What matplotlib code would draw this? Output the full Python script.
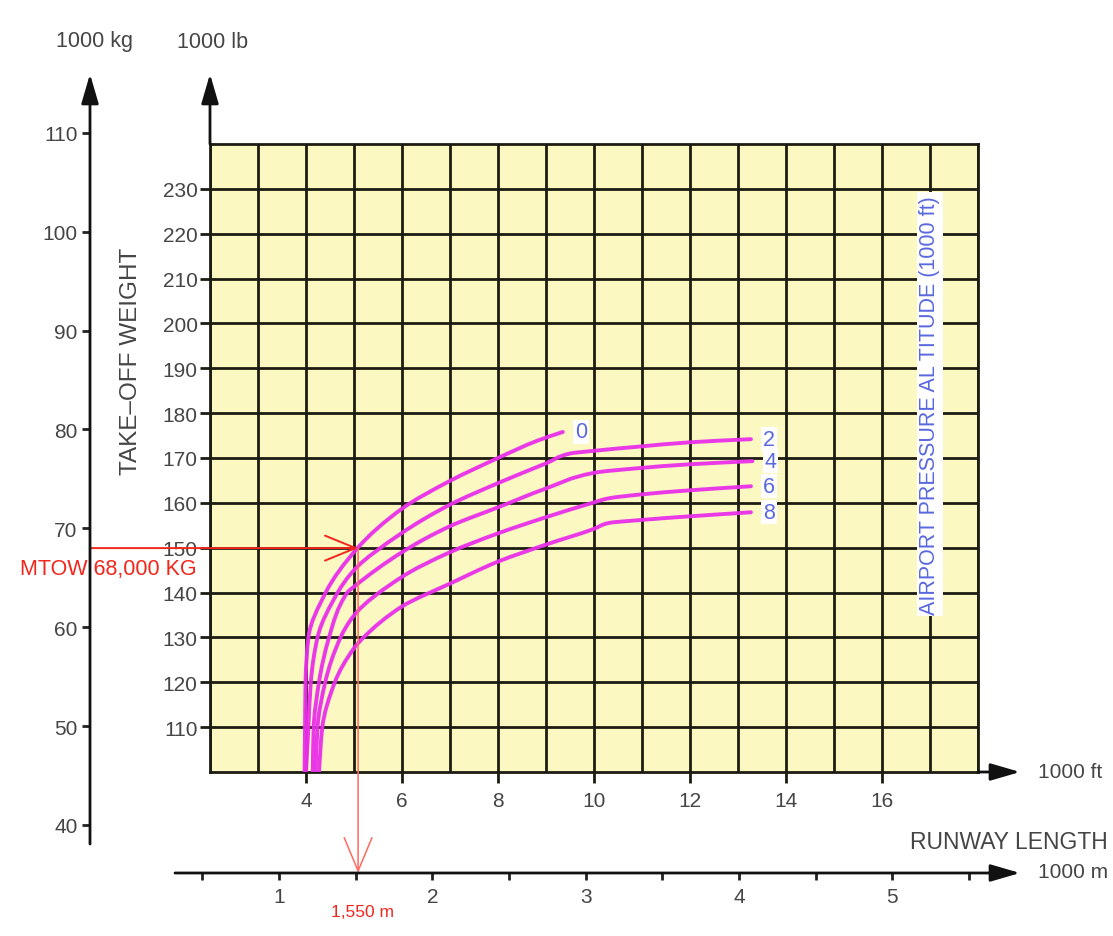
import matplotlib
matplotlib.use("Agg")
import matplotlib.pyplot as plt
import matplotlib.transforms as mtransforms
from matplotlib.path import Path
from matplotlib.patches import PathPatch
from matplotlib.ticker import MultipleLocator, FixedLocator

LB_PER_KG = 2.20462
FT_PER_M = 3.28084

# runway length (1000 ft) vs take-off weight (1000 lb), one pair per airport pressure altitude (1000 ft)
altitudes = ["0", "2", "4", "6", "8"]
len_alt0 = [3.97, 3.98, 3.99, 4.05, 4.41, 5.08, 6.0, 7.0, 8.0, 8.83, 9.35]
wt_alt0 = [100, 110, 120, 130, 140, 150, 158.7, 164.9, 170.0, 173.9, 175.8]
len_alt2 = [4.0, 4.05, 4.1, 4.24, 4.66, 5.0, 6.0, 7.0, 8.0, 9.0, 9.5, 10.0, 11.0, 12.0, 13.27]
wt_alt2 = [100, 110, 120, 130, 140, 145.0, 153.3, 159.6, 164.4, 168.8, 171.0, 171.6, 172.6, 173.5, 174.2]
len_alt4 = [4.14, 4.16, 4.27, 4.48, 4.86, 5.0, 6.0, 7.0, 8.0, 9.0, 10.0, 11.0, 12.0, 13.3]
wt_alt4 = [100, 110, 120, 130, 140, 141.3, 149.0, 154.8, 159.0, 163.2, 166.7, 167.8, 168.6, 169.3]
len_alt6 = [4.2, 4.24, 4.4, 4.72, 5.0, 6.0, 7.0, 8.0, 9.0, 10.0, 10.3, 11.0, 12.0, 13.27]
wt_alt6 = [100, 110, 120, 130, 134.9, 143.5, 149.0, 153.2, 156.8, 160.1, 161.0, 161.9, 162.8, 163.7]
len_alt8 = [4.27, 4.34, 4.6, 5.0, 5.2, 6.0, 7.0, 8.0, 9.0, 10.0, 10.3, 11.0, 12.0, 13.27]
wt_alt8 = [100, 110, 120, 127.6, 130, 136.9, 142.0, 146.9, 150.7, 154.2, 155.5, 156.2, 157.0, 157.9]

lb_ticks = list(range(110, 240, 10))
kg_ticks = list(range(40, 120, 10))
ft_ticks = list(range(4, 18, 2))
m_ticks = [1, 2, 3, 4, 5]
m_minor = [0.5, 1.5, 2.5, 3.5, 4.5, 5.5]

mtow_kg = 68000
runway_m = 1550

W, H = 1113, 937
plt.rcParams["font.family"] = ["Liberation Sans", "DejaVu Sans"]
txt = "#454545"
grid_c = "#1c1c12"
magenta = "#ea2fea"
blue = "#5a68de"
red = "#f2261c"

fig = plt.figure(figsize=(W / 100, H / 100), dpi=100)
fig.patch.set_facecolor("white")


def px_box(x0, y0, x1, y1):
    return [x0 / W, 1 - y1 / H, (x1 - x0) / W, (y1 - y0) / H]


def fig_px(x, y):
    return x / W, 1 - y / H


def smooth_path(xs, ys):
    # monotone (fritsch-carlson) cubic of length against weight, drawn as bezier segments
    n = len(xs)
    h = [ys[i + 1] - ys[i] for i in range(n - 1)]
    d = [(xs[i + 1] - xs[i]) / h[i] for i in range(n - 1)]
    m = [d[0]] + [0.0] * (n - 2) + [d[-1]]
    for k in range(1, n - 1):
        if d[k - 1] * d[k] <= 0:
            m[k] = 0.0
        else:
            w1 = 2 * h[k] + h[k - 1]
            w2 = h[k] + 2 * h[k - 1]
            m[k] = (w1 + w2) / (w1 / d[k - 1] + w2 / d[k])
    verts = [(xs[0], ys[0])]
    codes = [Path.MOVETO]
    for i in range(n - 1):
        verts += [(xs[i] + m[i] * h[i] / 3, ys[i] + h[i] / 3),
                  (xs[i + 1] - m[i + 1] * h[i] / 3, ys[i + 1] - h[i] / 3),
                  (xs[i + 1], ys[i + 1])]
        codes += [Path.CURVE4] * 3
    return Path(verts, codes)


# main chart: ft vs lb
ax = fig.add_axes(px_box(210, 145, 978, 773))
ax.set_xlim(2, 18)
ax.set_ylim(100, 240)
ax.set_facecolor("#fcf8c2")
ax.xaxis.set_major_locator(FixedLocator(ft_ticks))
ax.xaxis.set_minor_locator(MultipleLocator(1))
ax.yaxis.set_major_locator(FixedLocator(lb_ticks))
ax.grid(which="both", color=grid_c, lw=2)
ax.set_axisbelow(True)
ax.tick_params(axis="x", which="major", direction="out", length=8, width=2, color=grid_c,
               labelsize=15, labelcolor=txt, pad=6)
ax.tick_params(axis="x", which="minor", length=0)
ax.tick_params(axis="y", direction="out", length=7, width=2, color=grid_c,
               labelsize=15, labelcolor=txt, pad=2)
for s in ax.spines.values():
    s.set_color(grid_c)
    s.set_linewidth(2)

# kg axis sharing the weight scale
lb_per_px = 140 / 628
kg_lo = (100 - (845 - 773) * lb_per_px) / LB_PER_KG
kg_hi = (240 + (145 - 75) * lb_per_px) / LB_PER_KG
axk = fig.add_axes(px_box(90, 75, 91, 845))
axk.set_ylim(kg_lo, kg_hi)
axk.set_yticks(kg_ticks)
axk.set_xticks([])
axk.patch.set_visible(False)
for s in axk.spines.values():
    s.set_visible(False)
axk.tick_params(axis="y", direction="out", length=6, width=2, color="#222222",
                labelsize=15, labelcolor=txt, pad=3)

# metre axis
m_a = 153.3
m_b = 125.7
axm = fig.add_axes(px_box(175, 873, 1020, 874))
axm.set_xlim((175 - m_b) / m_a, (1020 - m_b) / m_a)
axm.set_xticks(m_ticks)
axm.set_xticks(m_minor, minor=True)
axm.set_yticks([])
axm.patch.set_visible(False)
for s in axm.spines.values():
    s.set_visible(False)
axm.tick_params(axis="x", which="both", direction="out", length=5, width=2, color="#222222",
                labelsize=15, labelcolor=txt, pad=5)

# axis lines with arrow heads
head = dict(arrowstyle="-|>,head_length=1.2,head_width=0.35", color="#111111", lw=2,
            mutation_scale=15, shrinkA=0, shrinkB=0)
axk.annotate("", xy=(0, 1), xytext=(0, 0), xycoords="axes fraction", arrowprops=head)
axm.annotate("", xy=(1, 0), xytext=(0, 0), xycoords="axes fraction", arrowprops=head)
ax.annotate("", xy=(0, 1.1115), xytext=(0, 1), xycoords="axes fraction", arrowprops=head,
            annotation_clip=False)
ax.annotate("", xy=(1.0547, 0), xytext=(1, 0), xycoords="axes fraction", arrowprops=head,
            annotation_clip=False)

# altitude curves
curves = [(len_alt0, wt_alt0), (len_alt2, wt_alt2), (len_alt4, wt_alt4),
          (len_alt6, wt_alt6), (len_alt8, wt_alt8)]
for alt, (xs, ys) in zip(altitudes, curves):
    ax.add_patch(PathPatch(smooth_path(xs, ys), fc="none", ec=magenta, lw=2.8, alpha=0.95,
                           joinstyle="round", capstyle="round", zorder=3))
    ax.annotate(alt, xy=(xs[-1], ys[-1]), xytext=(13, 0), textcoords="offset points",
                ha="center", va="center", fontsize=15.5, color=blue, zorder=4,
                bbox=dict(boxstyle="square,pad=0.08", fc="white", ec="none"))

ax.text(17, 182, "AIRPORT PRESSURE AL TITUDE (1000 ft)", rotation=90, ha="center", va="center",
        fontsize=15.5, color=blue, zorder=4,
        bbox=dict(boxstyle="square,pad=0.12", fc="white", ec="none"))

# MTOW example
w_lb = mtow_kg / 1000 * LB_PER_KG
x_ft = runway_m * FT_PER_M / 1000
kg_x = mtransforms.blended_transform_factory(axk.transAxes, ax.transData)
ax.annotate("", xy=(x_ft, w_lb), xycoords=ax.transData, xytext=(0, w_lb), textcoords=kg_x,
            arrowprops=dict(arrowstyle="->,head_length=2.2,head_width=0.9", color=red, lw=1.4,
                            shrinkA=0, shrinkB=0), annotation_clip=False, zorder=5)
m_y = mtransforms.blended_transform_factory(ax.transData, axm.transAxes)
ax.annotate("", xy=(x_ft, 0), xycoords=m_y, xytext=(x_ft, w_lb), textcoords=ax.transData,
            arrowprops=dict(arrowstyle="->,head_length=2.4,head_width=1.0", color="#ff6a60", lw=1.1,
                            shrinkA=0, shrinkB=0), annotation_clip=False, zorder=5)
ax.annotate("MTOW 68,000 KG", xy=(0, w_lb), xycoords=kg_x, xytext=(13, -15),
            textcoords="offset points", ha="center", va="center", fontsize=15.5, color=red,
            annotation_clip=False)
ax.annotate("1,550 m", xy=(x_ft, 0), xycoords=m_y, xytext=(3.5, -28),
            textcoords="offset points", ha="center", va="center", fontsize=12.5, color=red,
            annotation_clip=False)

# axis titles
fig.text(*fig_px(95, 42), "1000 kg", ha="center", va="center", fontsize=15.5, color=txt)
fig.text(*fig_px(213, 42), "1000 lb", ha="center", va="center", fontsize=15.5, color=txt)
fig.text(*fig_px(131, 361), "TAKE\u2013OFF WEIGHT", rotation=90, ha="center", va="center",
         fontsize=17.5, color=txt)
fig.text(*fig_px(1038, 773), "1000 ft", ha="left", va="center", fontsize=15, color=txt)
fig.text(*fig_px(1108, 843), "RUNWAY LENGTH", ha="right", va="center", fontsize=16.5, color=txt)
fig.text(*fig_px(1038, 873), "1000 m", ha="left", va="center", fontsize=15, color=txt)

fig.savefig("out.png", dpi=100)
